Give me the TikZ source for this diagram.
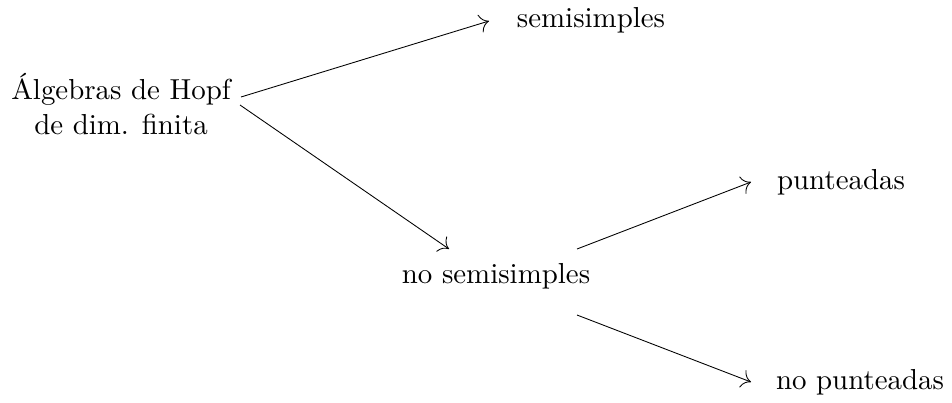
\documentclass[tikz,border=0pt]{standalone}
\usetikzlibrary{arrows.meta}
\begin{document}
\begin{tikzpicture}[x=0.346pt,y=-0.346pt,
  lbl/.style={inner sep=0pt,align=center},
  conn/.style={line width=0.3pt,-{To[length=3.2pt,width=6.4pt]}}]
\useasboundingbox (0,0) rectangle (952,402);
\node[lbl] (A) at (121,104) {Álgebras de Hopf\\de dim. finita};
\node[lbl] (S) at (591,20) {semisimples};
\node[lbl] (B) at (496,276) {no semisimples};
\node[lbl] (P) at (841,182) {punteadas};
\node[lbl] (N) at (860,382) {no punteadas};
\draw[conn] ([shift={(120,-7)}]A.center) -- ([shift={(-102,1)}]S.center);
\draw[conn] ([shift={(119,1)}]A.center) -- ([shift={(-47,-27)}]B.center);
\draw[conn] ([shift={(81,-27)}]B.center) -- ([shift={(-90,0)}]P.center);
\draw[conn] ([shift={(81,39)}]B.center) -- ([shift={(-109,0)}]N.center);
\end{tikzpicture}
\end{document}
